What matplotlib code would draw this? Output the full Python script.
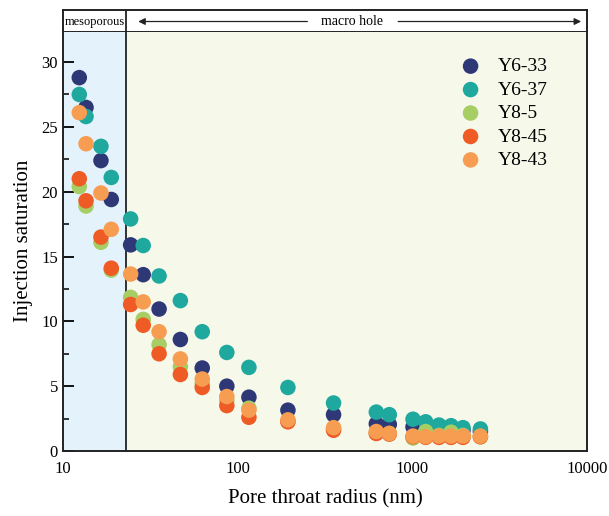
import numpy as np
import matplotlib.pyplot as plt
from matplotlib.ticker import MultipleLocator, NullLocator, FixedLocator

plt.rcParams["font.family"] = ["Liberation Serif", "DejaVu Serif"]

# pore throat radius (nm), shared by all samples
radius = [12.4, 13.55, 16.5, 18.9, 24.4, 28.8, 35.5, 47, 62.7, 86.7, 116, 194, 354,
          622, 738, 1009, 1192, 1421, 1666, 1950, 2453]

y6_33 = [28.8, 26.5, 22.4, 19.4, 15.9, 13.6, 10.95, 8.6, 6.4, 5.0, 4.15, 3.15, 2.8,
         2.1, 2.05, 1.85, 1.8, 1.7, 1.65, 1.6, 1.5]
y6_37 = [27.5, 25.8, 23.5, 21.1, 17.9, 15.85, 13.5, 11.6, 9.2, 7.6, 6.45, 4.9, 3.7,
         3.0, 2.8, 2.45, 2.25, 2.0, 1.95, 1.8, 1.7]
y8_5 = [20.4, 18.9, 16.1, 13.95, 11.85, 10.15, 8.2, 6.5, 5.2, 3.9, 3.3, 2.3, 1.7,
        1.4, 1.35, 1.0, 1.5, 1.2, 1.45, 1.2, 1.1]
y8_45 = [21.0, 19.3, 16.5, 14.1, 11.3, 9.7, 7.5, 5.9, 4.9, 3.5, 2.6, 2.25, 1.6,
         1.35, 1.3, 1.1, 1.05, 1.05, 1.05, 1.05, 1.1]
y8_43 = [26.1, 23.7, 19.9, 17.1, 13.65, 11.5, 9.2, 7.1, 5.55, 4.2, 3.15, 2.4, 1.8,
         1.5, 1.35, 1.15, 1.1, 1.15, 1.15, 1.15, 1.15]

series = ["Y6-33", "Y6-37", "Y8-5", "Y8-45", "Y8-43"]
values = [y6_33, y6_37, y8_5, y8_45, y8_43]
colors = ["#2E3877", "#1EA89E", "#A6CE64", "#EE5B25", "#F79D52"]

boundary = 23

fig = plt.figure(figsize=(6.09, 5.16), dpi=100)
ax = fig.add_axes([0.1034, 0.126, 0.8605, 0.814])
hdr = fig.add_axes([0.1034, 0.940, 0.8605, 0.0407], sharex=ax)

ax.set_xscale("log")
ax.set_xlim(10, 10000)
ax.set_ylim(0, 32.4)
ax.axvspan(10, boundary, color="#E4F2FB", zorder=0)
ax.axvspan(boundary, 10000, color="#F6F8EA", zorder=0)
ax.axvline(boundary, color="#222222", lw=1.3, zorder=1)

for name, vals, col in zip(series, values, colors):
    ax.scatter(radius, vals, s=125, color=col, edgecolors="none", label=name, zorder=3)

ax.yaxis.set_major_locator(MultipleLocator(5))
ax.yaxis.set_minor_locator(MultipleLocator(2.5))
ax.xaxis.set_major_locator(FixedLocator([10, 100, 1000, 10000]))
ax.xaxis.set_minor_locator(NullLocator())
ax.set_xticklabels(["10", "100", "1000", "10000"])
ax.tick_params(axis="y", which="major", direction="in", length=8, width=1.3, labelsize=12)
ax.tick_params(axis="y", which="minor", direction="in", length=4, width=1.1)
ax.tick_params(axis="x", which="major", length=0, labelsize=12, pad=7)
for sp in ax.spines.values():
    sp.set_linewidth(1.4)
    sp.set_color("#222222")

ax.set_xlabel("Pore throat radius (nm)", fontsize=15, labelpad=9)
ax.set_ylabel("Injection saturation", fontsize=15, labelpad=6)

leg = ax.legend(loc="upper right", bbox_to_anchor=(0.94, 0.955), frameon=False,
                fontsize=14, handletextpad=0.4, labelspacing=0.3, borderaxespad=0)

# header band
hdr.set_ylim(0, 1)
hdr.set_facecolor("white")
hdr.tick_params(left=False, bottom=False, labelleft=False, labelbottom=False)
for sp in hdr.spines.values():
    sp.set_linewidth(1.4)
    sp.set_color("#222222")
hdr.spines["bottom"].set_visible(False)
hdr.axvline(boundary, color="#222222", lw=1.3)
hdr.text(np.sqrt(10 * boundary), 0.45, "mesoporous", ha="center", va="center", fontsize=9)
hdr.text(450, 0.45, "macro hole", ha="center", va="center", fontsize=10)
hdr.annotate("", xy=(26, 0.45), xytext=(260, 0.45),
             arrowprops=dict(arrowstyle="-|>", color="#222222", lw=0.9, mutation_scale=10))
hdr.annotate("", xy=(9600, 0.45), xytext=(800, 0.45),
             arrowprops=dict(arrowstyle="-|>", color="#222222", lw=0.9, mutation_scale=10))

fig.savefig("out.png", dpi=100)
